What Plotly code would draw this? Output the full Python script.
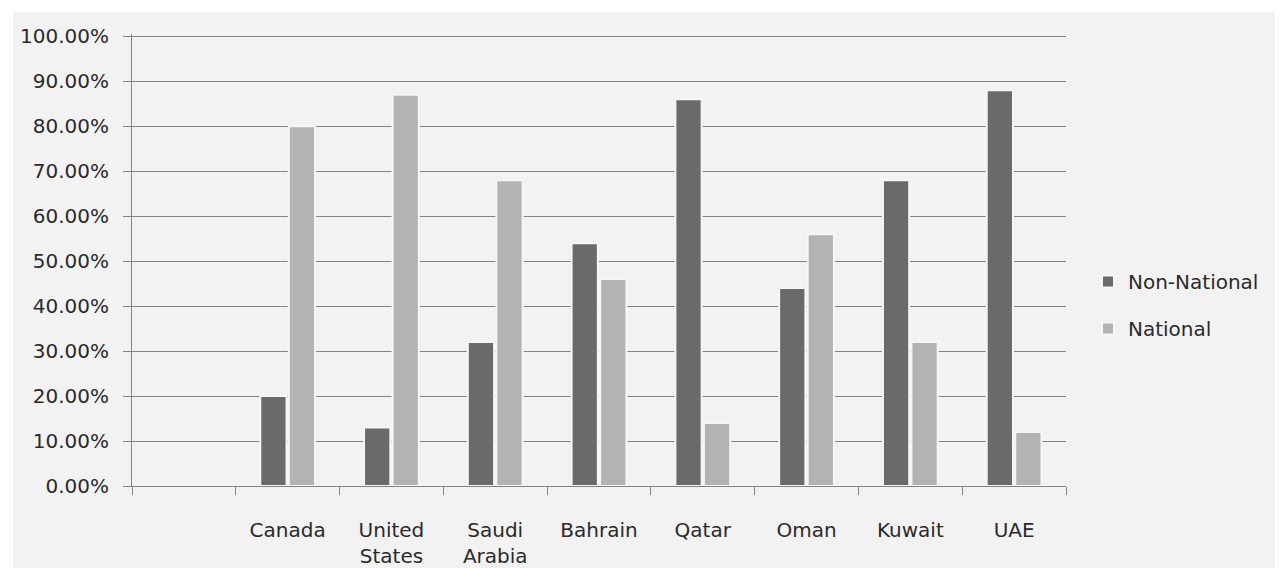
import plotly.graph_objects as go

# Share of workforce by nationality status
countries = ["", "Canada", "United<br>States", "Saudi<br>Arabia", "Bahrain",
             "Qatar", "Oman", "Kuwait", "UAE"]
non_national = [None, 0.20, 0.13, 0.32, 0.54, 0.86, 0.44, 0.68, 0.88]
national = [None, 0.80, 0.87, 0.68, 0.46, 0.14, 0.56, 0.32, 0.12]

y_ticks = [i / 10 for i in range(11)]

BG = "#f2f2f2"
GRID = "#838383"
FONT = "DejaVu Sans"
TEXT = "#2a2a2a"

fig = go.Figure()
fig.add_trace(go.Bar(
    name="Non-National", x=countries, y=non_national,
    marker=dict(color="#6a6a6a", line=dict(color="#f6f6f6", width=2)),
    legendgroup="a",
))
fig.add_trace(go.Bar(
    name="National", x=countries, y=national,
    marker=dict(color="#b3b3b3", line=dict(color="#f6f6f6", width=2)),
    legendgroup="b",
))

W, H = 1280, 568
L, R, T, B = 132, 214, 34, 82
pw, ph = W - L - R, H - T - B
Y_TOP = 1.005

# Grey panel behind the whole chart, leaving a thin white border top/left/right
fig.add_shape(
    type="rect", xref="paper", yref="paper", layer="below",
    x0=(13 - L) / pw, x1=(1275 - L) / pw,
    y0=-0.3, y1=(T + ph - 12) / ph,
    fillcolor=BG, line=dict(width=0),
)

fig.update_layout(
    width=W, height=H,
    margin=dict(l=L, r=R, t=T, b=B, autoexpand=False),
    paper_bgcolor="white",
    plot_bgcolor=BG,
    barmode="group",
    bargap=0.45,
    bargroupgap=0.08,
    font=dict(family=FONT, size=20, color=TEXT),
    showlegend=True,
    legend=dict(
        x=(1088 - L) / pw, xanchor="left",
        y=(T + ph - 305) / ph, yanchor="middle",
        bgcolor="rgba(0,0,0,0)",
        font=dict(family=FONT, size=20, color=TEXT),
        tracegroupgap=18,
        itemwidth=30,
    ),
    xaxis=dict(
        type="category",
        categoryorder="array", categoryarray=countries,
        tickson="boundaries",
        ticks="outside", ticklen=8, tickcolor=GRID, tickwidth=1,
        showline=True, linecolor=GRID, linewidth=1,
        showgrid=False,
        tickfont=dict(family=FONT, size=20, color=TEXT),
        ticklabelstandoff=26,
        automargin=False,
        fixedrange=True,
    ),
    yaxis=dict(
        range=[0, Y_TOP],
        tickvals=y_ticks,
        tickformat=".2%",
        ticks="outside", ticklen=8, tickcolor=GRID, tickwidth=1,
        showline=True, linecolor=GRID, linewidth=1,
        showgrid=True, gridcolor=GRID, gridwidth=1,
        zeroline=False,
        tickfont=dict(family=FONT, size=20, color=TEXT),
        ticklabelstandoff=10,
        automargin=False,
        fixedrange=True,
    ),
)

fig.write_html("out.html")
